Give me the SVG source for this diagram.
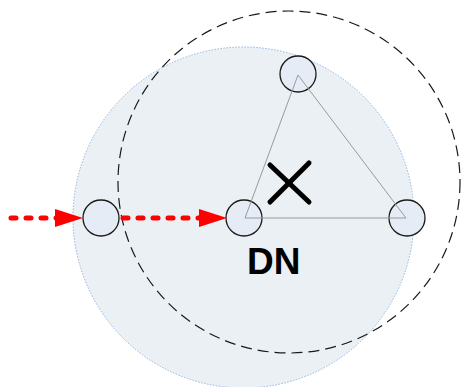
<svg xmlns="http://www.w3.org/2000/svg" width="461" height="387" viewBox="0 0 461 387">
<style>
.node{fill:#E5ECF6;stroke:#1a1a1a;stroke-width:1.3}
.flow{fill:none;stroke:#FF0000;stroke-width:5;stroke-dasharray:5 10;stroke-linecap:round}
.tri{fill:none;stroke:#9a9a9a;stroke-width:1}
.x{stroke:#000;stroke-width:5;stroke-linecap:round}
.lbl{font-family:"Liberation Sans",Arial,sans-serif;font-weight:bold;font-size:37px;fill:#000}
</style>
<g id="range">
<circle cx="243.5" cy="217.5" r="170.5" fill="#EBF0F5" stroke="#8EB4E3" stroke-width="1" stroke-dasharray="1.5 1.5"/>
</g>
<g id="range2">
<circle cx="289" cy="182" r="171" fill="none" stroke="#1a1a1a" stroke-width="1.2" stroke-dasharray="11 6"/>
</g>
<g id="n1"><circle class="node" cx="101" cy="218" r="18"/></g>
<g id="dn"><circle class="node" cx="244" cy="218" r="18"/></g>
<g id="n3"><circle class="node" cx="298" cy="74" r="18"/></g>
<g id="n4"><circle class="node" cx="407" cy="218" r="18"/></g>
<g id="triangle">
<polygon class="tri" points="245,218 298,75 406,218"/>
</g>
<g id="cross">
<line class="x" x1="270" y1="165" x2="309" y2="202"/>
<line class="x" x1="309" y1="163" x2="270" y2="202"/>
</g>
<g id="connectors">
<line class="flow" x1="11" y1="218" x2="58" y2="218"/>
<path d="M55,209 L83,218 L55,227 Z" fill="#FF0000"/>
<line class="flow" x1="123" y1="218" x2="200" y2="218"/>
<path d="M199,209 L227,218 L199,227 Z" fill="#FF0000"/>
</g>
<g id="label"><text class="lbl" x="247" y="274">DN</text></g>
</svg>
